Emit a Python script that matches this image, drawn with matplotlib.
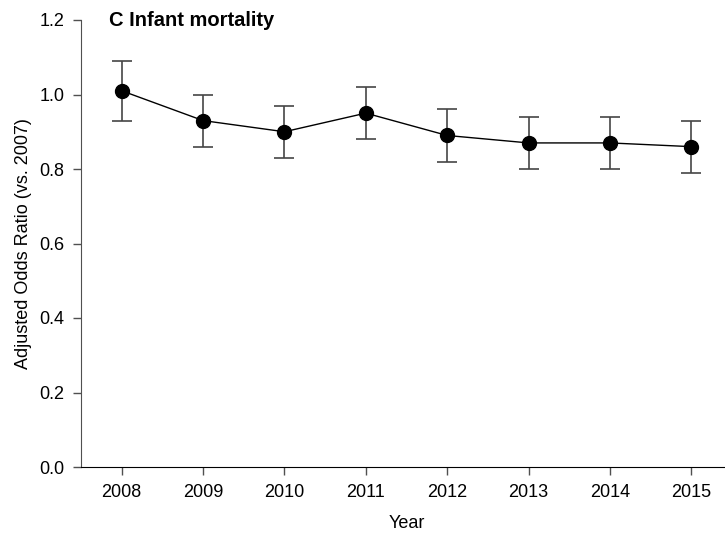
import matplotlib.pyplot as plt
import numpy as np

plt.rcParams['font.family'] = ['Liberation Sans', 'DejaVu Sans']

years = [2008, 2009, 2010, 2011, 2012, 2013, 2014, 2015]
odds = np.array([1.01, 0.93, 0.90, 0.95, 0.89, 0.87, 0.87, 0.86])
lower = np.array([0.93, 0.86, 0.83, 0.88, 0.82, 0.80, 0.80, 0.79])
upper = np.array([1.09, 1.00, 0.97, 1.02, 0.96, 0.94, 0.94, 0.93])

fig = plt.figure(figsize=(7.25, 5.33), dpi=100)
ax = fig.add_axes([81 / 725, 66 / 533, 651 / 725, 447 / 533])

ax.errorbar(years, odds, yerr=[odds - lower, upper - odds], fmt='none',
            ecolor='#454545', elinewidth=1.2, capsize=7, capthick=1.2, zorder=2)
ax.plot(years, odds, '-', color='black', lw=1, zorder=3)
ax.plot(years, odds, 'o', color='black', ms=10, zorder=4)

ax.set_xlim(2007.5, 2015.5)
ax.set_ylim(0, 1.2)
ax.set_xticks(years)
ax.set_yticks(np.arange(0, 1.21, 0.2))
ax.set_yticklabels([f'{v:.1f}' for v in np.arange(0, 1.21, 0.2)])

for s in ['top', 'right']:
    ax.spines[s].set_visible(False)
ax.spines['left'].set_color('#505050')
ax.spines['bottom'].set_color('black')
ax.tick_params(direction='out', length=6, width=1, colors='#505050', labelcolor='black', labelsize=13, pad=6)

ax.set_xlabel('Year', fontsize=13, labelpad=10)
ax.set_ylabel('Adjusted Odds Ratio (vs. 2007)', fontsize=13, labelpad=5)
ax.text(2007.85, 1.2, 'C Infant mortality', fontsize=14.5, fontweight='bold', va='center')

fig.savefig('out.png', dpi=100)
